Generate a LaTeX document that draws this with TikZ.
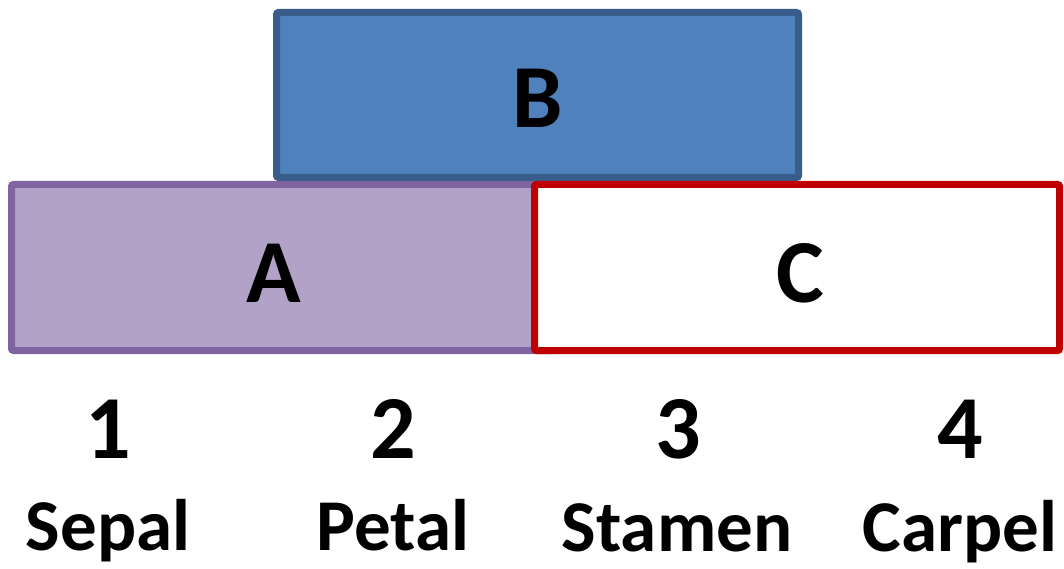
\documentclass[tikz,border=0pt]{standalone}
\usepackage{fontspec}
\setmainfont{Carlito}
\definecolor{bfill}{HTML}{4F81BD}
\definecolor{bline}{HTML}{385D8A}
\definecolor{afill}{HTML}{B3A2C7}
\definecolor{aline}{HTML}{8064A2}
\definecolor{cline}{HTML}{C00000}
\begin{document}
\begin{tikzpicture}[x=1pt,y=-1pt,
  box/.style={line width=7pt,rounded corners=2pt},
  big/.style={font=\fontsize{90}{90}\selectfont\bfseries,anchor=base,inner sep=0pt},
  lab/.style={font=\fontsize{73}{73}\selectfont\bfseries,anchor=base,inner sep=0pt}]
\useasboundingbox (0,0) rectangle (1064,569);
\draw[box,draw=bline,fill=bfill] (276.5,12.5) rectangle (798.5,177.5);
\draw[box,draw=aline,fill=afill] (11.5,184.5) rectangle (560,350.5);
\draw[box,draw=cline,fill=white] (534.5,184.5) rectangle (1059.5,350.5);
\node[big] (B) at (538,128) {B};
\node[big] (A) at (274,302) {A};
\node[big] (C) at (800,302) {C};
\node[big] (n1) at (108,458) {1};
\node[big] (n2) at (393,458) {2};
\node[big] (n3) at (678,458) {3};
\node[big] (n4) at (960,458) {4};
\node[lab] (l1) at (108,550) {Sepal};
\node[lab] (l2) at (393,550) {Petal};
\node[lab] (l3) at (677,551) {Stamen};
\node[lab] (l4) at (960,551) {Carpel};
\end{tikzpicture}
\end{document}
